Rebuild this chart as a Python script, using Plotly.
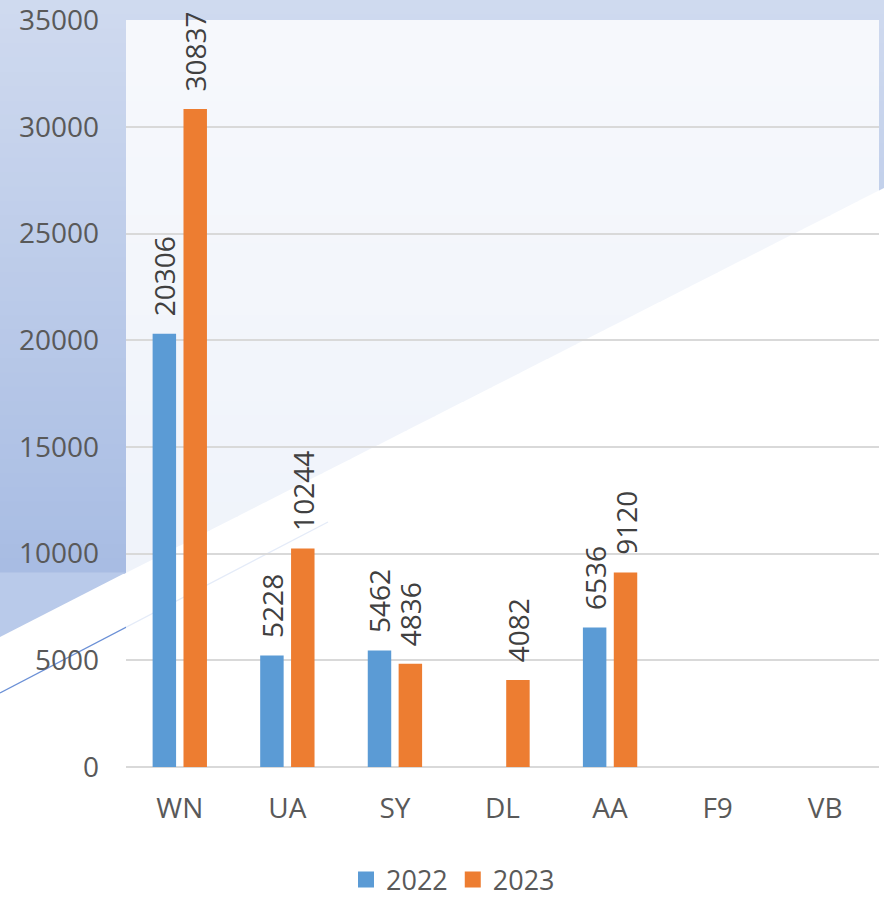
import plotly.graph_objects as go

# ---- data ----
categories = ["WN", "UA", "SY", "DL", "AA", "F9", "VB"]
values_2022 = [20306, 5228, 5462, None, 6536, None, None]
values_2023 = [30837, 10244, 4836, 4082, 9120, None, None]
series_names = ["2022", "2023"]
series_colors = ["#5b9bd5", "#ed7d31"]
y_ticks = [0, 5000, 10000, 15000, 20000, 25000, 30000, 35000]

# ---- geometry (pixels of the 884x902 canvas) ----
FW, FH = 884, 902
L, T, R, B = 126, 20, 5, 135
W = FW - L - R
H = FH - T - B


def px(x):
    return (x - L) / W


def py(y):
    return (T + H - y) / H


def path(points):
    return "M " + " L ".join(f"{px(x):.5f},{py(y):.5f}" for x, y in points) + " Z"


# diagonal boundary of the blue backdrop: y = 637 - 0.508 x
def diag_x(y):
    return (637 - y) / 0.508


shapes = []
c0 = (207, 218, 239)
c1 = (168, 188, 227)
N = 40
ytop, ybot = 0, 573
for i in range(N):
    ya = ytop + (ybot - ytop) * i / N
    yb = ytop + (ybot - ytop) * (i + 1) / N + 0.8
    t = (i + 0.5) / N
    col = tuple(round(c0[k] + (c1[k] - c0[k]) * t) for k in range(3))
    pts = [(0, ya), (min(FW, diag_x(ya)), ya)]
    if ya < 188 < yb:
        pts.append((FW, 188))
    pts.append((min(FW, diag_x(yb)), yb))
    pts.append((0, yb))
    shapes.append(dict(type="path", xref="paper", yref="paper", path=path(pts),
                       fillcolor=f"rgb{col}", line=dict(width=0), layer="below"))

# lighter triangle below the left strip
shapes.append(dict(type="path", xref="paper", yref="paper",
                   path=path([(0, 572.5), (L, 572.5), (0, 637)]),
                   fillcolor="#b9caea", line=dict(width=0), layer="below"))

# thin blue accent line
shapes.append(dict(type="line", xref="paper", yref="paper",
                   x0=px(0), y0=py(693), x1=px(328), y1=py(522),
                   line=dict(color="#6b90d6", width=1.4), layer="below"))

# translucent white plot area
shapes.append(dict(type="rect", xref="paper", yref="paper", x0=0, y0=0, x1=1, y1=1,
                   fillcolor="rgba(255,255,255,0.82)", line=dict(width=0), layer="below"))


def labels(vals):
    return ["" if v is None else "\u00a0\u00a0" + str(v) for v in vals]


fig = go.Figure()
for name, vals, col in zip(series_names, [values_2022, values_2023], series_colors):
    fig.add_trace(go.Bar(x=categories, y=vals, name=name, showlegend=False,
                         marker=dict(color=col, line=dict(width=0)),
                         text=labels(vals), textposition="outside", textangle=-90,
                         constraintext="none", cliponaxis=False,
                         textfont=dict(family="Open Sans", size=28, color="#404040")))
# legend entries with larger square keys
for name, col in zip(series_names, series_colors):
    fig.add_trace(go.Scatter(x=[None], y=[None], mode="markers", name=name,
                             marker=dict(symbol="square", size=17, color=col),
                             showlegend=True))

fig.update_layout(
    width=FW, height=FH,
    margin=dict(l=L, r=R, t=T, b=B, autoexpand=False),
    paper_bgcolor="white",
    plot_bgcolor="rgba(0,0,0,0)",
    barmode="group",
    bargap=0.426,
    bargroupgap=0.24,
    font=dict(family="Open Sans", color="#595959"),
    shapes=shapes,
    showlegend=True,
    legend=dict(orientation="h", x=px(453), y=py(880), xanchor="center", yanchor="middle",
                font=dict(family="Open Sans", size=27, color="#595959"),
                bgcolor="rgba(0,0,0,0)", itemwidth=30, traceorder="normal"),
)
fig.update_xaxes(showgrid=False, showline=False, zeroline=False, ticks="",
                 tickfont=dict(family="Open Sans", size=28, color="#595959"),
                 ticklabelstandoff=22)
fig.update_yaxes(range=[0, 35010], tickvals=y_ticks, ticktext=[str(v) for v in y_ticks],
                 showgrid=True, gridcolor="#d9d9d9", gridwidth=1.8,
                 zeroline=True, zerolinecolor="#d9d9d9", zerolinewidth=1.8,
                 showline=False, ticks="",
                 tickfont=dict(family="Open Sans", size=28, color="#595959"),
                 ticklabelstandoff=26)

fig.write_html("out.html", config={"displayModeBar": False},
               post_script="document.body.style.margin='0';document.body.style.overflow='hidden';")
